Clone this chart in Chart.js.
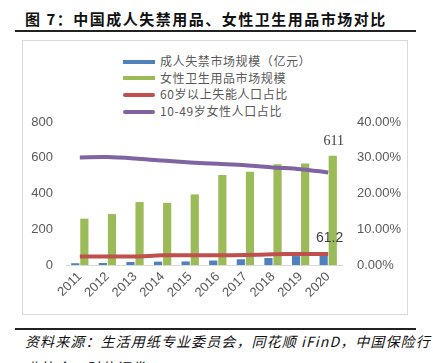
<!DOCTYPE html>
<html>
<head>
<meta charset="utf-8">
<script src="https://cdn.jsdelivr.net/npm/chart.js@4.4.1/dist/chart.umd.min.js"></script>
<style>
  body { margin: 0; width: 433px; height: 363px; overflow: hidden; background: #fff; position: relative; font-family: "Noto Sans CJK SC", sans-serif; }
  .title { position: absolute; left: 25px; top: 8px; font-size: 15px; font-weight: bold; letter-spacing: 1.5px; color: #111; line-height: 22px; white-space: nowrap; }
  .rule { position: absolute; left: 15px; width: 401px; height: 2px; background: #222; }
  .frame { position: absolute; left: 22px; top: 40px; width: 384px; height: 273px; border: 1px solid #d9d9d9; }
  .legend { position: absolute; left: 123px; top: 53px; font-size: 12px; color: #595959; letter-spacing: 0.6px; }
  .legend div { height: 16.7px; line-height: 16.7px; white-space: nowrap; }
  .legend span { display: inline-block; width: 32px; height: 4px; vertical-align: middle; margin-right: 5px; position: relative; top: -1px; }
  .source { position: absolute; left: 25px; font-size: 14px; font-style: italic; letter-spacing: 1.1px; color: #111; white-space: nowrap; line-height: 18px; }
  canvas { position: absolute; left: 0; top: 0; }
</style>
</head>
<body>
<div class="title">图 7：中国成人失禁用品、女性卫生用品市场对比</div>
<div class="rule" style="top:30px"></div>
<div class="frame"></div>
<div class="legend" id="legend"></div>
<div class="rule" style="top:328px"></div>
<div class="source" style="top:332px">资料来源：生活用纸专业委员会，同花顺 iFinD，中国保险行</div>
<div class="source" style="top:358px">业协会，财信证券</div>
<canvas id="c" width="433" height="363"></canvas>
<script>
const years = ['2011', '2012', '2013', '2014', '2015', '2016', '2017', '2018', '2019', '2020'];
const chengren = [10, 11, 17, 19, 20, 25, 32, 39, 50, 61.2];          // 成人失禁市场规模（亿元）
const nvxing = [259, 285, 352, 348, 395, 503, 521, 563, 568, 611];     // 女性卫生用品市场规模
const shineng = [2.4, 2.4, 2.4, 2.7, 2.7, 2.7, 2.8, 3.0, 3.1, 3.1];    // 60岁以上失能人口占比 (%)
const nvxingRenkou = [30.1, 30.2, 29.8, 29.2, 28.7, 28.3, 27.9, 27.3, 26.8, 25.9]; // 10-49岁女性人口占比 (%)
const leftTicks = [0, 200, 400, 600, 800];

const grey = '#595959';
const tickFont = { family: '"Liberation Sans", sans-serif', size: 13 };

const series = [
  { label: '成人失禁市场规模（亿元）', color: '#4f81bd', line: false },
  { label: '女性卫生用品市场规模', color: '#9bbb59', line: false },
  { label: '60岁以上失能人口占比', color: '#c0504d', line: true },
  { label: '10-49岁女性人口占比', color: '#8064a2', line: true }
];

// legend als html, één kolom
const lg = document.getElementById('legend');
series.forEach(s => {
  const row = document.createElement('div');
  const m = document.createElement('span');
  m.style.background = s.color;
  if (s.line) m.style.borderRadius = '2px';
  row.appendChild(m);
  row.appendChild(document.createTextNode(s.label));
  lg.appendChild(row);
});

const labelPlugin = {
  id: 'waardeLabels',
  afterDatasetsDraw(chart) {
    const ctx = chart.ctx;
    ctx.save();
    ctx.fillStyle = '#404040';
    ctx.textAlign = 'center';
    ctx.textBaseline = 'middle';
    const last = years.length - 1;
    const g = chart.getDatasetMeta(1).data[last];
    ctx.font = '14px "Liberation Serif", serif';
    ctx.fillText(String(nvxing[last]), g.x + 1, g.y - 14);
    const b = chart.getDatasetMeta(0).data[last];
    ctx.font = '14px "Liberation Sans", sans-serif';
    ctx.fillText(String(chengren[last]), b.x + 6, b.y - 16);
    ctx.restore();
  }
};

new Chart(document.getElementById('c'), {
  type: 'bar',
  data: {
    labels: years,
    datasets: [
      { type: 'bar', label: series[0].label, data: chengren, backgroundColor: series[0].color, yAxisID: 'y', order: 2, categoryPercentage: 0.66, barPercentage: 0.9 },
      { type: 'bar', label: series[1].label, data: nvxing, backgroundColor: series[1].color, yAxisID: 'y', order: 2, categoryPercentage: 0.66, barPercentage: 0.9 },
      { type: 'line', label: series[2].label, data: shineng, borderColor: series[2].color, borderWidth: 4, pointRadius: 0, tension: 0.3, yAxisID: 'y1', order: 1 },
      { type: 'line', label: series[3].label, data: nvxingRenkou, borderColor: series[3].color, borderWidth: 4, pointRadius: 0, tension: 0.3, yAxisID: 'y1', order: 0 }
    ]
  },
  options: {
    responsive: false,
    animation: false,
    layout: { padding: { top: 122, left: 0, right: 0, bottom: 0 } },
    plugins: { legend: { display: false }, tooltip: { enabled: false } },
    scales: {
      x: {
        grid: { display: false, drawTicks: false },
        border: { display: true, color: '#d9d9d9', width: 1 },
        ticks: { color: grey, font: tickFont, minRotation: 45, maxRotation: 45, padding: 4 },
        afterFit: s => { s.height = 98; }
      },
      y: {
        position: 'left',
        min: 0, max: 800,
        afterBuildTicks: s => { s.ticks = leftTicks.map(v => ({ value: v })); },
        grid: { display: false, drawTicks: false },
        border: { display: false },
        ticks: { color: grey, font: tickFont, padding: 13 },
        afterFit: s => { s.width = 66; }
      },
      y1: {
        position: 'right',
        min: 0, max: 40,
        grid: { display: false, drawTicks: false },
        border: { display: false },
        ticks: { color: grey, font: tickFont, stepSize: 10, padding: 15, callback: v => v.toFixed(2) + '%' },
        afterFit: s => { s.width = 91; }
      }
    }
  },
  plugins: [labelPlugin]
});
</script>
</body>
</html>
